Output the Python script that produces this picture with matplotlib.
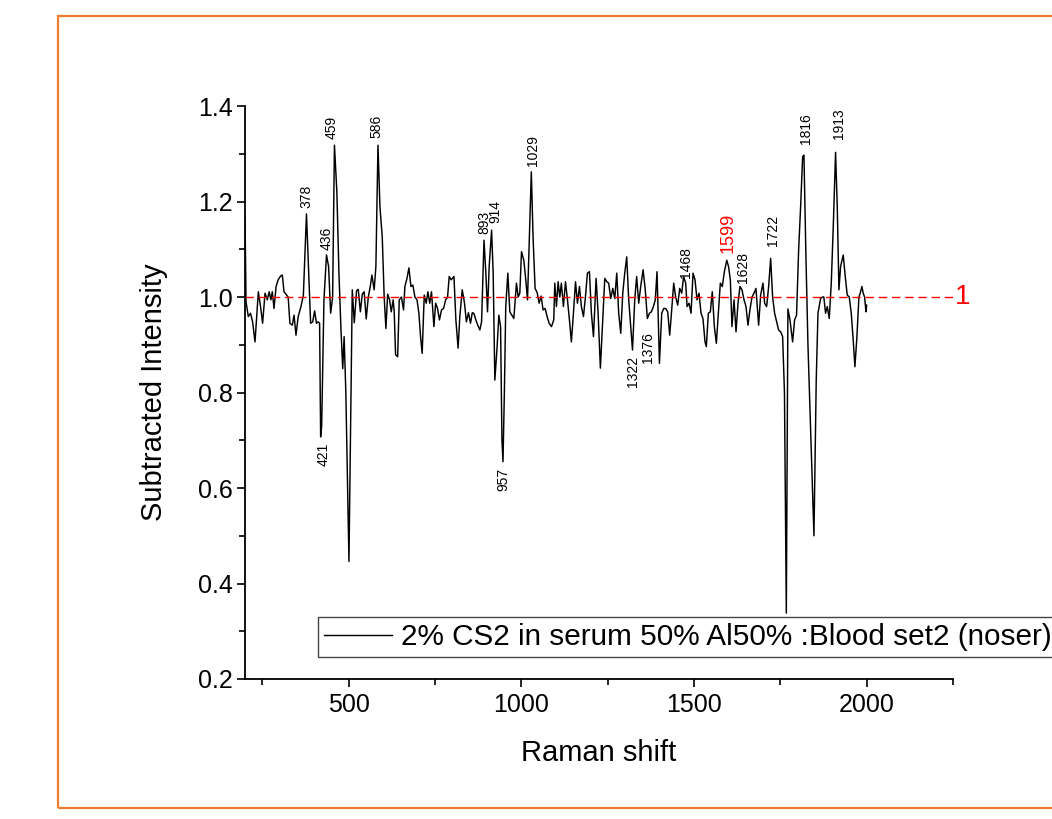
import matplotlib
matplotlib.use("Agg")
import matplotlib.pyplot as plt
from matplotlib.patches import Rectangle
from matplotlib.ticker import MultipleLocator

plt.rcParams['font.family'] = ['Liberation Sans', 'DejaVu Sans']

# ---- data ----
raman_shift = [
    200, 203, 209.6, 216, 222, 229, 238.6, 245, 251, 258, 264.6, 270, 275, 279, 284, 290, 296, 303, 308, 313,
    320.6, 325, 330, 337, 342, 347.6, 354, 362, 369, 378, 390, 396, 401.6, 407, 412, 416, 419, 422, 428.6, 436,
    442, 448, 453.7, 459, 466, 472, 478, 483, 487, 492, 497, 501, 506, 510.6, 516.4, 523, 528, 534, 539.6, 545,
    551, 557, 562.7, 567.5, 574, 579, 585, 590.7, 597.4, 603, 608, 613, 618.6, 623.5, 629, 632, 636, 642, 646.6, 653,
    659, 663, 669, 674.6, 680.4, 686, 692, 698, 703.5, 708.3, 713, 719, 724.7, 729.5, 735, 740, 747, 752, 757.5, 763,
    769, 775, 781, 786.5, 791.3, 797, 805, 810.6, 817, 822, 829, 835.6, 841, 847, 853, 858, 862.6, 868.4, 874, 880,
    885, 892, 897.4, 902.2, 907, 914, 918.6, 923.4, 930, 935, 940, 944, 947, 951, 955, 961, 966.8, 972.6, 978.4, 986,
    991, 995.7, 1000.6, 1007.3, 1013, 1018, 1029, 1034.3, 1040, 1046, 1051.7, 1057.5, 1063, 1069, 1074.8, 1080.6,
    1087.4, 1094, 1097, 1101.8, 1106.6, 1111.5, 1116, 1122, 1128, 1133.7, 1139.4, 1145, 1151, 1157, 1162.6, 1168.4,
    1174, 1180, 1185.7, 1191.5, 1197.3, 1203, 1209, 1216.6, 1222.4, 1229, 1235, 1241.7, 1247.5, 1253, 1259, 1265,
    1270.6, 1276.4, 1282, 1288, 1293.8, 1299.5, 1305.3, 1311, 1317, 1322, 1328.5, 1334, 1340, 1345.8, 1352.6, 1359,
    1365, 1371, 1376.7, 1382.5, 1388, 1393, 1400, 1406.6, 1412.4, 1418, 1424, 1429.7, 1435.5, 1441.3, 1447, 1452.9,
    1458.7, 1464.5, 1470, 1476, 1480, 1485.7, 1491.5, 1497.3, 1503, 1508.8, 1514.6, 1520.4, 1526, 1532, 1535.8,
    1541.6, 1547.4, 1553, 1559, 1564.8, 1570.6, 1576.3, 1582, 1588, 1595, 1600, 1605.3, 1610, 1616, 1621.7, 1627.5,
    1633.2, 1639, 1645, 1650.6, 1656.4, 1662, 1668, 1673.8, 1679.5, 1687.2, 1693, 1699.8, 1704.6, 1710.4, 1716.2,
    1722, 1727.7, 1733.5, 1739.3, 1745, 1751, 1756.7, 1762, 1767.4, 1772, 1778, 1785.6, 1791.4, 1797, 1803, 1808.8,
    1814.6, 1818.4, 1824.2, 1830, 1847.4, 1854, 1859, 1866.6, 1872.4, 1876, 1881, 1886, 1891.7, 1897.5, 1903.3, 1910,
    1914.9, 1919.7, 1924.5, 1932.2, 1938, 1943.8, 1949.6, 1955.4, 1961, 1966, 1971.8, 1977.6, 1981.4, 1986.2, 1990,
    1994, 1998, 2000,
]
intensity = [
    1.17, 0.99, 0.959, 0.966, 0.948, 0.906, 1.011, 0.98, 0.945, 1.008, 0.994, 1.011, 0.994, 1.011, 0.976, 1.022, 1.036, 1.044, 1.046, 1.011,
    1.004, 1.0, 0.945, 0.941, 0.962, 0.92, 0.959, 0.98, 1.004, 1.174, 0.945, 0.948, 0.971, 0.945, 0.948, 0.945, 0.707, 0.73, 0.994, 1.088,
    1.064, 0.966, 1.0, 1.318, 1.22, 1.05, 0.93, 0.85, 0.917, 0.80, 0.60, 0.446, 0.75, 1.015, 0.946, 1.013, 1.016, 0.969, 1.006, 1.011,
    0.954, 1.0, 1.022, 1.046, 1.015, 1.064, 1.318, 1.189, 1.126, 1.0, 0.934, 1.006, 0.994, 0.969, 0.994, 0.97, 0.879, 0.875, 0.994, 1.0,
    0.973, 1.022, 1.039, 1.061, 1.022, 1.025, 1.0, 0.994, 0.966, 0.917, 0.882, 1.004, 0.987, 1.011, 0.987, 1.011, 0.938, 0.987, 0.976, 0.952,
    0.973, 0.976, 0.994, 1.0, 1.043, 1.036, 1.043, 0.952, 0.893, 0.959, 1.015, 0.987, 0.948, 0.967, 0.945, 0.967, 0.966, 0.952, 0.941, 0.931,
    0.948, 1.119, 1.05, 0.969, 1.064, 1.14, 1.05, 0.826, 0.896, 0.962, 0.938, 0.70, 0.655, 0.80, 0.98, 1.05, 0.969, 0.962, 0.955, 1.029,
    1.0, 1.008, 1.095, 1.077, 1.036, 0.994, 1.262, 1.12, 1.018, 1.009, 0.987, 1.002, 0.973, 0.976, 0.959, 0.945,
    0.938, 0.952, 1.029, 0.98, 1.032, 1.0, 1.029, 0.98, 1.032, 0.994, 0.952, 0.906, 0.966, 1.032, 0.987, 1.022,
    0.98, 0.959, 1.0, 1.05, 1.053, 0.966, 0.917, 1.039, 0.966, 0.851, 0.938, 1.039, 1.032, 1.029, 0.997, 1.018,
    0.997, 1.05, 0.966, 0.924, 1.008, 1.05, 1.084, 0.994, 0.938, 0.889, 0.994, 1.043, 0.987, 1.022, 1.057, 1.015,
    0.955, 0.966, 0.969, 0.98, 0.994, 1.053, 0.861, 0.966, 0.976, 0.976, 0.969, 0.92, 0.973, 1.029, 1.0, 0.983,
    1.018, 1.008, 1.043, 1.029, 0.98, 0.987, 0.966, 1.05, 1.036, 0.994, 1.008, 0.966, 0.955, 0.906, 0.896,
    0.966, 0.969, 1.011, 0.938, 0.903, 0.966, 1.029, 1.022, 1.053, 1.077, 1.064, 1.036, 0.938, 0.994, 0.927, 0.987,
    1.022, 1.015, 0.994, 0.98, 0.941, 0.973, 1.0, 1.008, 1.018, 0.941, 1.004, 1.029, 0.987, 0.98, 1.022,
    1.081, 1.0, 0.966, 0.948, 0.931, 0.927, 0.917, 0.80, 0.338, 0.975, 0.952, 0.906, 0.952, 0.962, 1.098, 1.189,
    1.294, 1.297, 1.084, 0.90, 0.50, 0.826, 0.966, 0.997, 1.0, 1.0, 0.966, 0.98, 0.955, 1.029, 1.147, 1.303,
    1.189, 1.015, 1.064, 1.088, 1.043, 1.004, 1.0, 0.966, 0.91, 0.854, 0.917, 1.0, 1.008, 1.022, 1.008,
    1.0, 0.969, 0.983,
]
series_label = "2% CS2 in serum 50% Al50% :Blood set2 (noser)"

# peak annotations (text, x, y, alignment)
peak_labels = ['378', '436', '459', '586', '893', '914', '1029', '1468', '1628', '1722', '1816', '1913']
peak_label_x = [378, 436, 451, 581, 892, 925, 1034, 1478, 1642, 1729, 1823, 1919]
peak_label_y = [1.186, 1.098, 1.331, 1.334, 1.132, 1.155, 1.274, 1.040, 1.029, 1.107, 1.320, 1.331]
dip_labels = ['421', '957', '1322', '1376']
dip_label_x = [427, 949, 1322, 1367]
dip_label_y = [0.694, 0.642, 0.876, 0.927]
red_label = '1599'
red_label_x = 1599
red_label_y = 1.092
reference_level = 1.0

# ---- figure ----
W, H = 1052, 819
fig = plt.figure(figsize=(W / 100, H / 100), dpi=100)
fig.patch.set_facecolor('white')

# orange frame (right side runs off the image)
fig.add_artist(Rectangle((58 / W, 1 - 808 / H), 1.2, (808 - 16) / H,
                         transform=fig.transFigure, fill=False,
                         edgecolor='#ED7D31', linewidth=1.6, clip_on=False))

ax = fig.add_axes([245 / W, 1 - 679 / H, (953 - 245) / W, (679 - 106) / H])
ax.plot(raman_shift, intensity, color='black', linewidth=1.05, label=series_label)
ax.plot([200, 2250], [reference_level, reference_level], color='red',
        linewidth=1.0, dashes=(6, 3.5), clip_on=False)
ax.text(2256, reference_level, '1', color='red', fontsize=20, ha='left', va='center')

for t, x, y in zip(peak_labels, peak_label_x, peak_label_y):
    ax.text(x, y, t, rotation=90, ha='center', va='bottom', fontsize=10)
for t, x, y in zip(dip_labels, dip_label_x, dip_label_y):
    ax.text(x, y, t, rotation=90, ha='center', va='top', fontsize=10)
ax.text(red_label_x, red_label_y, red_label, rotation=90, ha='center', va='bottom',
        fontsize=13, color='red')

ax.set_xlim(200, 2250)
ax.set_ylim(0.2, 1.4)
ax.xaxis.set_major_locator(MultipleLocator(500))
ax.xaxis.set_minor_locator(MultipleLocator(250))
ax.yaxis.set_major_locator(MultipleLocator(0.2))
ax.yaxis.set_minor_locator(MultipleLocator(0.1))
ax.yaxis.set_major_formatter(matplotlib.ticker.FormatStrFormatter('%.1f'))

for s in ['top', 'right']:
    ax.spines[s].set_visible(False)
for s in ['left', 'bottom']:
    ax.spines[s].set_linewidth(1.3)
ax.tick_params(which='major', direction='out', length=6, width=1.2, labelsize=18, pad=3)
ax.tick_params(axis='x', which='major', pad=4)
ax.tick_params(which='minor', direction='out', length=4, width=1.2)
ax.patch.set_alpha(0)

ax.set_xlabel('Raman shift', fontsize=21, labelpad=16)
ax.set_ylabel('Subtracted Intensity', fontsize=21, labelpad=21)

leg = ax.legend(loc='upper left', bbox_to_anchor=(318 / W, 1 - 617 / H),
                bbox_transform=fig.transFigure, fontsize=21.4, frameon=True,
                fancybox=False, borderpad=0.2, handlelength=2.3, handletextpad=0.3,
                borderaxespad=0)
leg.get_frame().set_edgecolor('#444444')
leg.get_frame().set_linewidth(1.0)
leg.get_frame().set_alpha(1)

fig.savefig('out.png', dpi=100)
